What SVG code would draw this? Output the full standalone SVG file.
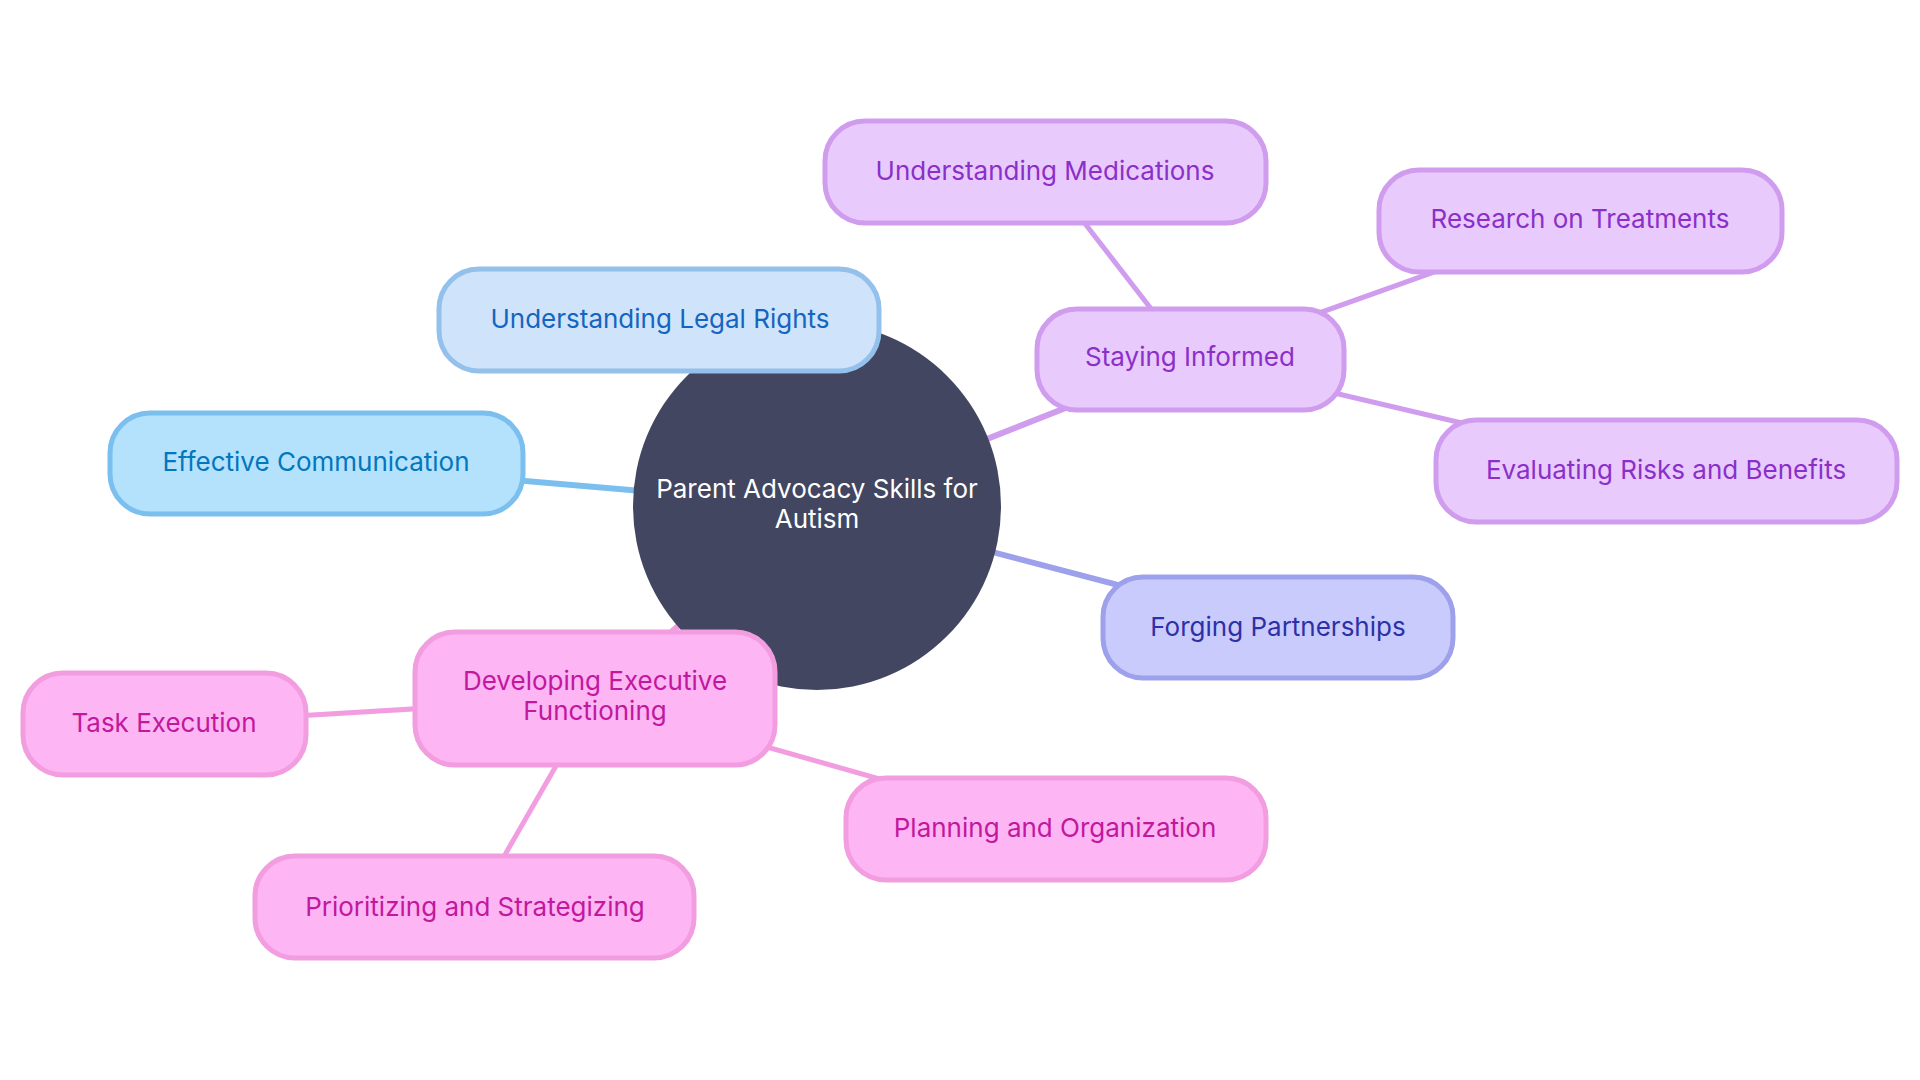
<svg xmlns="http://www.w3.org/2000/svg" width="1920" height="1080" viewBox="0 0 1920 1080">
<style>
text{font-family:Inter,"Noto Sans","Liberation Sans",sans-serif;font-size:26px;text-anchor:middle;dominant-baseline:central}
.box{stroke-width:5}
.blue1 rect{fill:#cfe3fb;stroke:#94c0ec}.blue1 text{fill:#1565c0}
.blue2 rect{fill:#b4e1fc;stroke:#7bbfee}.blue2 text{fill:#0277bd}
.purple rect{fill:#e8cafd;stroke:#d09cee}.purple text{fill:#8b2fc9}
.indigo rect{fill:#cacbfd;stroke:#9da1ec}.indigo text{fill:#2d31a6}
.pink rect{fill:#fdb5f3;stroke:#f29de0}.pink text{fill:#c1189e}
.edge{fill:none;stroke-linecap:round}
</style>
<rect width="1920" height="1080" fill="#ffffff"/>
<g id="connectors">
<line class="edge" x1="817" y1="506" x2="660" y2="320" stroke="#94c0ec" stroke-width="6"/>
<line class="edge" x1="817" y1="506" x2="316" y2="463" stroke="#7bbfee" stroke-width="6"/>
<line class="edge" x1="817" y1="506" x2="1190" y2="359" stroke="#d09cee" stroke-width="6"/>
<line class="edge" x1="817" y1="506" x2="1278" y2="627" stroke="#9da1ec" stroke-width="6"/>
<line class="edge" x1="817" y1="506" x2="595" y2="698" stroke="#f29de0" stroke-width="6"/>
<line class="edge" x1="1190" y1="359" x2="1045" y2="172" stroke="#d09cee" stroke-width="5"/>
<line class="edge" x1="1190" y1="359" x2="1580" y2="220" stroke="#d09cee" stroke-width="5"/>
<line class="edge" x1="1190" y1="359" x2="1666" y2="471" stroke="#d09cee" stroke-width="5"/>
<line class="edge" x1="595" y1="698" x2="164" y2="724" stroke="#f29de0" stroke-width="5"/>
<line class="edge" x1="595" y1="698" x2="475" y2="907" stroke="#f29de0" stroke-width="5"/>
<line class="edge" x1="595" y1="698" x2="1055" y2="829" stroke="#f29de0" stroke-width="5"/>
</g>
<g id="root">
<circle cx="817" cy="506" r="184" fill="#424660"/>
<text x="817" y="488" fill="#ffffff">Parent Advocacy Skills for</text>
<text x="817" y="518" fill="#ffffff">Autism</text>
</g>
<g id="legal-rights" class="blue1">
<rect class="box" x="439" y="269" width="440" height="102" rx="40"/>
<text x="660" y="318">Understanding Legal Rights</text>
</g>
<g id="effective-communication" class="blue2">
<rect class="box" x="110" y="413" width="413" height="101" rx="40"/>
<text x="316" y="461">Effective Communication</text>
</g>
<g id="staying-informed" class="purple">
<rect class="box" x="1037" y="309" width="307" height="101" rx="40"/>
<text x="1190" y="356">Staying Informed</text>
</g>
<g id="understanding-medications" class="purple">
<rect class="box" x="825" y="121" width="441" height="102" rx="40"/>
<text x="1045" y="170">Understanding Medications</text>
</g>
<g id="research-treatments" class="purple">
<rect class="box" x="1379" y="170" width="403" height="102" rx="40"/>
<text x="1580" y="218">Research on Treatments</text>
</g>
<g id="evaluating-risks" class="purple">
<rect class="box" x="1436" y="420" width="461" height="102" rx="40"/>
<text x="1666" y="469">Evaluating Risks and Benefits</text>
</g>
<g id="forging-partnerships" class="indigo">
<rect class="box" x="1103" y="577" width="350" height="101" rx="40"/>
<text x="1278" y="626">Forging Partnerships</text>
</g>
<g id="executive-functioning" class="pink">
<rect class="box" x="415" y="632" width="360" height="133" rx="40"/>
<text x="595" y="680">Developing Executive</text>
<text x="595" y="710">Functioning</text>
</g>
<g id="task-execution" class="pink">
<rect class="box" x="23" y="673" width="283" height="102" rx="40"/>
<text x="164" y="722">Task Execution</text>
</g>
<g id="prioritizing" class="pink">
<rect class="box" x="255" y="856" width="439" height="102" rx="40"/>
<text x="475" y="906">Prioritizing and Strategizing</text>
</g>
<g id="planning" class="pink">
<rect class="box" x="846" y="778" width="420" height="102" rx="40"/>
<text x="1055" y="827">Planning and Organization</text>
</g>
</svg>
